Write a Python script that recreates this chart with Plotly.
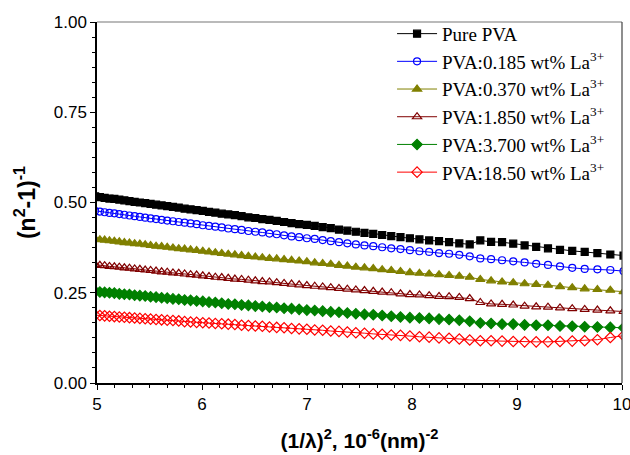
import plotly.graph_objects as go

# x = (1/lambda)^2 in 10^-6 nm^-2
x_vals = [4.9825, 5.0273, 5.0727, 5.1187, 5.1653, 5.2126, 5.2606, 5.3091, 5.3584, 5.4083,
          5.4590, 5.5103, 5.5624, 5.6153, 5.6689, 5.7233, 5.7785, 5.8344, 5.8912, 5.9488,
          6.0073, 6.0667, 6.1269, 6.1880, 6.2500, 6.3130, 6.3769, 6.4418, 6.5077, 6.5746,
          6.6426, 6.7116, 6.7817, 6.8529, 6.9252, 6.9987, 7.0734, 7.1492, 7.2263, 7.3046,
          7.3842, 7.4651, 7.5474, 7.6310, 7.7160, 7.8025, 7.8904, 7.9798, 8.0708, 8.1633,
          8.2574, 8.3531, 8.4505, 8.5496, 8.6505, 8.7532, 8.8577, 8.9641, 9.0724, 9.1827,
          9.2950, 9.4095, 9.5260, 9.6447, 9.7656, 9.8889, 10.0144]

pure_pva = [0.517, 0.515, 0.513, 0.511, 0.510, 0.508, 0.506, 0.504, 0.502, 0.500,
            0.498, 0.496, 0.494, 0.492, 0.490, 0.488, 0.486, 0.483, 0.481, 0.479,
            0.477, 0.474, 0.472, 0.469, 0.467, 0.465, 0.462, 0.459, 0.457, 0.454,
            0.452, 0.449, 0.446, 0.443, 0.440, 0.438, 0.435, 0.432, 0.429, 0.425,
            0.422, 0.419, 0.416, 0.413, 0.410, 0.407, 0.404, 0.401, 0.398, 0.395,
            0.393, 0.390, 0.387, 0.384, 0.395, 0.391, 0.390, 0.386, 0.381, 0.377,
            0.373, 0.369, 0.366, 0.363, 0.360, 0.356, 0.353]

la_0185 = [0.477, 0.475, 0.473, 0.471, 0.470, 0.468, 0.466, 0.464, 0.462, 0.460,
           0.458, 0.456, 0.454, 0.452, 0.450, 0.448, 0.446, 0.444, 0.442, 0.440,
           0.437, 0.435, 0.433, 0.431, 0.428, 0.426, 0.424, 0.421, 0.419, 0.417,
           0.414, 0.412, 0.409, 0.406, 0.404, 0.401, 0.399, 0.396, 0.393, 0.390,
           0.387, 0.384, 0.381, 0.379, 0.376, 0.373, 0.371, 0.368, 0.365, 0.363,
           0.360, 0.358, 0.355, 0.351, 0.345, 0.343, 0.340, 0.337, 0.334, 0.330,
           0.327, 0.323, 0.319, 0.316, 0.315, 0.313, 0.310]

la_0370 = [0.399, 0.397, 0.396, 0.394, 0.393, 0.391, 0.389, 0.388, 0.386, 0.385,
           0.383, 0.381, 0.379, 0.378, 0.376, 0.374, 0.372, 0.371, 0.369, 0.367,
           0.365, 0.363, 0.361, 0.359, 0.357, 0.355, 0.353, 0.351, 0.349, 0.347,
           0.345, 0.344, 0.342, 0.340, 0.338, 0.336, 0.333, 0.331, 0.329, 0.326,
           0.324, 0.321, 0.319, 0.317, 0.314, 0.312, 0.309, 0.306, 0.304, 0.302,
           0.300, 0.298, 0.296, 0.293, 0.287, 0.283, 0.280, 0.278, 0.275, 0.273,
           0.271, 0.267, 0.264, 0.261, 0.259, 0.257, 0.253]

la_1850 = [0.328, 0.326, 0.325, 0.323, 0.322, 0.321, 0.319, 0.318, 0.316, 0.315,
           0.313, 0.312, 0.310, 0.308, 0.307, 0.305, 0.304, 0.302, 0.300, 0.299,
           0.297, 0.295, 0.293, 0.292, 0.290, 0.288, 0.287, 0.285, 0.283, 0.281,
           0.280, 0.278, 0.276, 0.274, 0.272, 0.270, 0.268, 0.266, 0.264, 0.262,
           0.260, 0.258, 0.256, 0.254, 0.252, 0.250, 0.247, 0.245, 0.244, 0.242,
           0.240, 0.239, 0.237, 0.234, 0.223, 0.219, 0.218, 0.216, 0.213, 0.211,
           0.210, 0.208, 0.206, 0.204, 0.202, 0.200, 0.198]

la_3700 = [0.254, 0.252, 0.251, 0.250, 0.249, 0.247, 0.246, 0.245, 0.243, 0.242,
           0.241, 0.239, 0.238, 0.236, 0.235, 0.233, 0.232, 0.230, 0.229, 0.227,
           0.226, 0.224, 0.223, 0.221, 0.219, 0.218, 0.216, 0.215, 0.213, 0.212,
           0.210, 0.209, 0.207, 0.206, 0.204, 0.202, 0.201, 0.199, 0.197, 0.196,
           0.194, 0.192, 0.190, 0.189, 0.187, 0.185, 0.183, 0.181, 0.180, 0.179,
           0.177, 0.176, 0.174, 0.171, 0.166, 0.165, 0.163, 0.163, 0.161, 0.160,
           0.160, 0.158, 0.157, 0.156, 0.155, 0.154, 0.153]

la_1850b = [0.188, 0.187, 0.186, 0.185, 0.184, 0.183, 0.182, 0.181, 0.180, 0.179,
            0.178, 0.177, 0.176, 0.175, 0.174, 0.173, 0.172, 0.170, 0.169, 0.168,
            0.167, 0.166, 0.165, 0.164, 0.163, 0.162, 0.160, 0.159, 0.158, 0.157,
            0.155, 0.154, 0.153, 0.151, 0.150, 0.149, 0.147, 0.146, 0.144, 0.143,
            0.141, 0.139, 0.138, 0.136, 0.135, 0.133, 0.132, 0.130, 0.128, 0.127,
            0.125, 0.124, 0.122, 0.119, 0.117, 0.117, 0.116, 0.115, 0.114, 0.114,
            0.114, 0.115, 0.116, 0.117, 0.120, 0.126, 0.131]

series_names = ["Pure PVA",
                "PVA:0.185 wt% La<sup>3+</sup>",
                "PVA:0.370 wt% La<sup>3+</sup>",
                "PVA:1.850 wt% La<sup>3+</sup>",
                "PVA:3.700 wt% La<sup>3+</sup>",
                "PVA:18.50 wt% La<sup>3+</sup>"]
series_values = [pure_pva, la_0185, la_0370, la_1850, la_3700, la_1850b]
colors = ["#000000", "#0000FF", "#808000", "#800000", "#008000", "#FF0000"]
symbols = ["square", "circle-open", "triangle-up", "triangle-up-open", "diamond", "diamond-open"]
sizes = [7, 7, 8, 8, 8, 8]

x_ticks = [5, 6, 7, 8, 9, 10]
y_ticks = [0.0, 0.25, 0.5, 0.75, 1.0]

fig = go.Figure()
for name, vals, col, sym, sz in zip(series_names, series_values, colors, symbols, sizes):
    fig.add_trace(go.Scatter(
        x=x_vals, y=vals, name=name, mode="lines+markers",
        line=dict(color=col, width=1),
        marker=dict(symbol=sym, size=sz, color=col, line=dict(color=col, width=1.2)),
    ))

axis_font = dict(family="Liberation Sans, Arial", size=17, color="black")
fig.update_layout(
    width=630, height=455,
    margin=dict(l=97, r=8, t=22, b=72),
    paper_bgcolor="white", plot_bgcolor="white",
    showlegend=True,
    legend=dict(x=0.562, y=1.02, xanchor="left", yanchor="top",
                bgcolor="rgba(255,255,255,0)", borderwidth=0,
                itemwidth=40,
                font=dict(family="Liberation Serif, Times New Roman", size=19, color="black"),
                tracegroupgap=0),
    xaxis=dict(range=[5, 10], tickvals=x_ticks, ticktext=[str(v) for v in x_ticks],
               showgrid=False, zeroline=False, automargin=False,
               showline=True, linecolor="black", linewidth=1.5,
               ticks="outside", ticklen=5, tickwidth=1.2, tickcolor="black",
               ticklabeloverflow="allow",
               minor=dict(dtick=1/6, ticks="outside", ticklen=3, tickwidth=1, tickcolor="black"),
               tickfont=axis_font,
               title=dict(text="<b>(1/λ)<sup>2</sup>, 10<sup>-6</sup>(nm)<sup>-2</sup></b>",
                          font=dict(family="Liberation Sans, Arial", size=21, color="black"),
                          standoff=20)),
    yaxis=dict(range=[0, 1], tickvals=y_ticks, ticktext=["%.2f" % v for v in y_ticks],
               showgrid=False, zeroline=False, automargin=False,
               showline=True, linecolor="black", linewidth=1.5,
               ticks="outside", ticklen=5, tickwidth=1.2, tickcolor="black",
               minor=dict(dtick=0.25/6, ticks="outside", ticklen=3, tickwidth=1, tickcolor="black"),
               tickfont=axis_font,
               title=dict(text="<b>(n<sup>2</sup>-1)<sup>-1</sup></b>",
                          font=dict(family="Liberation Sans, Arial", size=23, color="black"),
                          standoff=12)),
)
# top and right frame lines
fig.add_shape(type="line", xref="paper", yref="paper", x0=0, x1=1, y0=1, y1=1,
              line=dict(color="#777777", width=1.2))
fig.add_shape(type="line", xref="paper", yref="paper", x0=1, x1=1, y0=0, y1=1,
              line=dict(color="#444444", width=1.2))

fig.write_html("out.html")
